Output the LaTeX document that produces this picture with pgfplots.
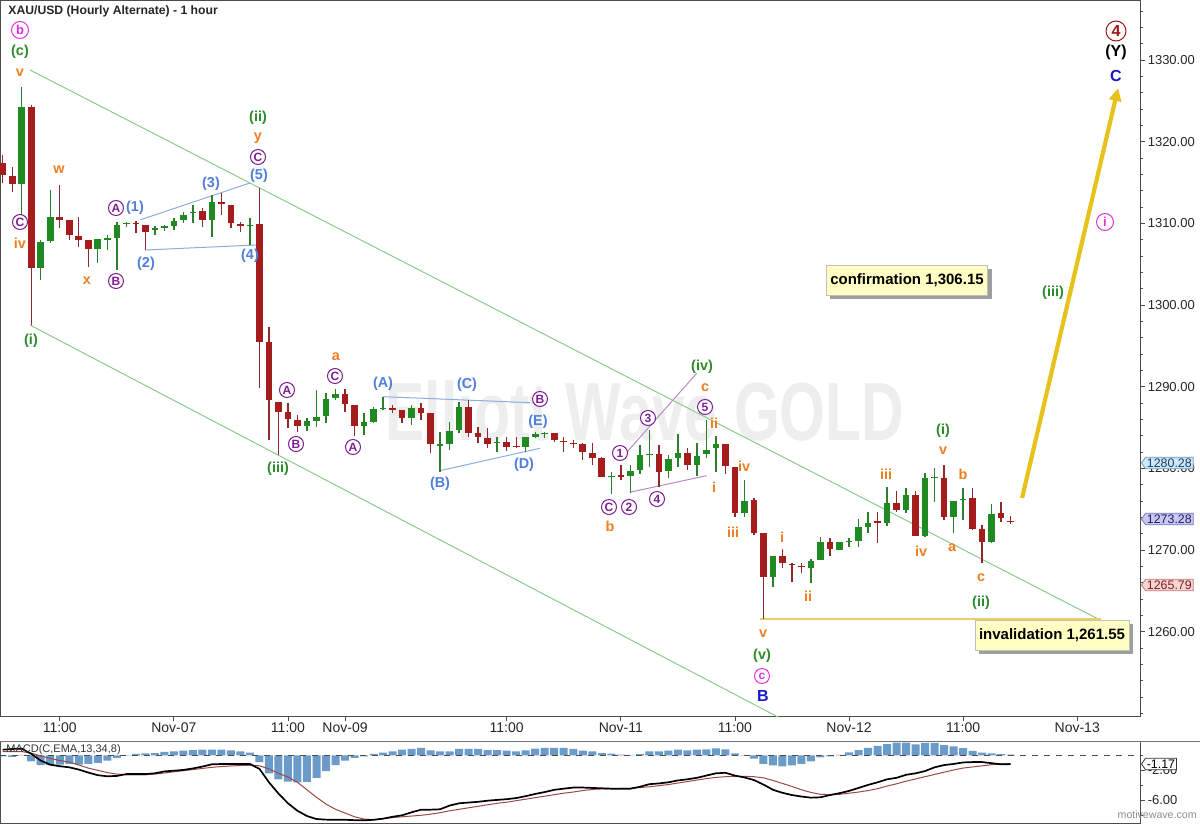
\documentclass[border=0pt]{standalone}
\usepackage{fontspec}
\setmainfont{Liberation Sans}
\usepackage{graphicx}
\usepackage{pgfplots}
\pgfplotsset{compat=1.18}
\usepackage{pgfplotstable}
\usetikzlibrary{arrows.meta,shapes.symbols}

\definecolor{cgreen}{HTML}{1F8A22}
\definecolor{cgreenw}{HTML}{2E7D2E}
\definecolor{cred}{HTML}{A51C1C}
\definecolor{credw}{HTML}{8E2A2A}
\definecolor{wgreen}{HTML}{2A8C2A}
\definecolor{worange}{HTML}{F07D1E}
\definecolor{wblue}{HTML}{4F7FDA}
\definecolor{wpurple}{HTML}{7D1E91}
\definecolor{wmag}{HTML}{E030E0}
\definecolor{wdblue}{HTML}{1818C8}
\definecolor{wdred}{HTML}{A01414}
\definecolor{chan}{HTML}{8CCB8C}
\definecolor{tri}{HTML}{88AEE2}
\definecolor{trip}{HTML}{B58AC8}
\definecolor{gold}{HTML}{E8C21C}
\definecolor{invl}{HTML}{E8CF6A}
\definecolor{histc}{HTML}{6A9BC9}
\definecolor{sigc}{HTML}{9A4A46}
\definecolor{boxy}{HTML}{FFFFC4}
\definecolor{wm}{HTML}{EEEEEE}
\definecolor{m1f}{HTML}{CDE8F5}\definecolor{m1d}{HTML}{6E96BE}\definecolor{m1t}{HTML}{1E3C6E}
\definecolor{m2f}{HTML}{C8C8F2}\definecolor{m2d}{HTML}{7878BE}\definecolor{m2t}{HTML}{1E1E64}
\definecolor{m3f}{HTML}{F8D4D4}\definecolor{m3d}{HTML}{BE7878}\definecolor{m3t}{HTML}{781E1E}

% green (up) candles: index, open, high, low, close
\pgfplotstableread{
i o h l c
3 1314.82 1326.69 1310.78 1324.25
5 1304.54 1307.97 1303.07 1307.72
6 1307.84 1314.09 1307.60 1310.78
11 1306.87 1308.09 1305.15 1308.09
12 1307.97 1308.58 1306.74 1308.21
13 1308.21 1310.17 1304.30 1309.80
14 1309.93 1310.17 1309.56 1310.10
17 1309.19 1309.68 1308.58 1309.44
18 1309.44 1309.80 1309.07 1309.68
19 1309.68 1310.66 1309.19 1310.29
20 1310.42 1311.40 1310.05 1311.03
21 1311.22 1312.25 1310.05 1311.40
23 1310.42 1313.48 1308.34 1312.62
27 1309.62 1310.66 1307.36 1309.80
33 1285.20 1286.18 1284.59 1285.81
34 1285.81 1289.61 1285.08 1286.30
35 1286.43 1289.24 1285.57 1288.51
36 1288.63 1289.73 1288.38 1289.12
39 1285.20 1286.79 1284.10 1285.69
40 1285.69 1287.53 1285.57 1287.28
41 1287.22 1288.75 1287.16 1287.40
44 1286.18 1287.77 1285.32 1287.40
47 1282.80 1284.47 1279.57 1282.99
48 1282.99 1285.69 1282.26 1284.59
49 1284.71 1288.14 1284.34 1287.53
53 1283.06 1283.85 1282.02 1283.24
56 1282.63 1283.85 1282.02 1283.85
57 1283.85 1284.47 1283.73 1284.22
58 1284.16 1284.47 1283.73 1284.34
65 1278.90 1279.57 1276.88 1279.08
67 1279.08 1280.43 1277.00 1279.69
68 1279.81 1282.87 1279.33 1281.65
69 1281.59 1284.71 1280.18 1281.77
71 1279.69 1281.65 1278.84 1281.16
72 1281.28 1284.22 1280.18 1281.90
74 1280.43 1283.12 1279.08 1281.53
75 1281.77 1285.93 1281.28 1282.26
76 1282.51 1283.98 1279.57 1282.99
79 1274.55 1278.59 1274.06 1276.02
82 1266.72 1269.29 1265.49 1269.29
86 1267.82 1268.92 1265.98 1268.67
87 1268.80 1271.61 1268.80 1271.00
89 1270.02 1271.00 1270.02 1271.00
90 1270.94 1271.49 1270.39 1271.12
91 1271.12 1273.81 1270.39 1272.84
92 1272.84 1274.67 1272.10 1273.33
94 1273.33 1277.73 1272.96 1275.78
96 1274.92 1277.61 1274.55 1276.75
98 1271.73 1279.45 1271.61 1278.84
99 1278.80 1280.06 1275.90 1278.96
101 1274.06 1276.02 1272.10 1276.02
102 1276.08 1277.61 1273.69 1276.26
105 1271.00 1275.65 1270.88 1274.43
}\greentab

% red (down) candles: index, open, high, low, close
\pgfplotstableread{
i o h l c
1 1317.39 1318.37 1314.94 1315.92
2 1315.80 1316.90 1313.84 1314.82
4 1324.25 1324.49 1297.56 1304.54
7 1310.78 1314.70 1309.44 1310.42
8 1310.42 1310.42 1307.97 1308.58
9 1308.46 1310.78 1307.11 1307.97
10 1307.97 1307.97 1304.66 1306.87
15 1310.05 1310.29 1308.83 1309.88
16 1309.80 1309.80 1306.74 1308.95
22 1311.52 1311.89 1309.56 1310.42
24 1312.62 1313.72 1311.03 1312.38
25 1312.25 1312.25 1309.44 1310.05
26 1309.93 1310.17 1308.95 1309.68
28 1309.93 1314.33 1289.85 1295.48
29 1295.48 1297.32 1283.49 1288.38
30 1288.14 1288.14 1281.65 1286.92
31 1286.92 1288.02 1284.96 1286.06
32 1285.93 1286.55 1284.47 1285.20
37 1289.12 1289.73 1286.92 1287.89
38 1287.77 1287.77 1283.98 1285.20
42 1287.40 1287.77 1286.79 1287.16
43 1287.16 1287.16 1285.57 1286.18
45 1287.40 1288.02 1285.93 1286.79
46 1286.79 1286.79 1281.90 1282.99
50 1287.53 1288.38 1283.85 1284.34
51 1284.34 1285.08 1283.12 1283.85
52 1283.73 1284.96 1282.51 1282.99
54 1283.24 1283.85 1282.14 1282.63
55 1282.80 1283.85 1282.51 1282.63
59 1284.34 1284.34 1283.24 1283.49
60 1283.42 1283.85 1282.02 1283.24
61 1283.17 1283.49 1282.51 1282.99
62 1282.99 1283.12 1281.04 1282.02
63 1281.90 1283.12 1280.43 1281.28
64 1281.28 1281.40 1278.96 1278.96
66 1279.14 1280.43 1278.59 1278.96
70 1281.77 1282.87 1277.73 1279.57
73 1281.90 1282.51 1279.81 1280.43
77 1282.99 1282.99 1279.33 1280.30
78 1280.18 1280.18 1274.06 1274.55
80 1276.14 1276.38 1271.86 1272.10
81 1272.10 1272.10 1261.55 1266.72
83 1269.29 1270.14 1267.82 1268.43
84 1268.36 1268.43 1266.10 1268.18
85 1268.12 1268.43 1267.20 1267.94
88 1271.00 1271.49 1269.29 1270.14
93 1273.51 1274.67 1270.88 1273.33
95 1275.78 1277.24 1274.67 1274.92
97 1276.75 1277.24 1271.73 1271.73
100 1278.84 1280.43 1273.69 1274.06
103 1276.38 1277.61 1272.47 1272.59
104 1272.59 1273.08 1268.43 1271.00
106 1274.55 1275.90 1273.45 1273.94
107 1273.58 1274.18 1273.20 1273.40
}\redtab

% MACD(13,34,8): histogram, MACD line, signal line
\pgfplotstableread{
i hist macd sig
1 -0.15 0.75 0.5
2 -0.2 0.85 0.5
3 0.05 0.9 0.5
4 -0.8 0.2 0.3
5 -1.3 -0.7 -0.1
6 -1.3 -1.25 -0.4
7 -1.25 -1.45 -0.7
8 -1.15 -1.6 -0.9
9 -1.25 -1.9 -1.3
10 -1.15 -2.3 -1.7
11 -1.0 -2.65 -2.0
12 -0.7 -2.8 -2.3
13 -0.35 -2.75 -2.5
14 -0.05 -2.5 -2.6
15 0.18 -2.5 -2.6
16 0.25 -2.5 -2.6
17 0.3 -2.4 -2.5
18 0.45 -2.15 -2.35
19 0.53 -2.05 -2.2
20 0.62 -1.95 -2.05
21 0.7 -1.75 -1.9
22 0.75 -1.5 -1.75
23 0.75 -1.2 -1.6
24 0.75 -1.16 -1.5
25 0.67 -1.16 -1.42
26 0.53 -1.16 -1.36
27 0.35 -1.16 -1.32
28 -0.9 -1.8 -1.4
29 -2.4 -3.6 -1.8
30 -3.2 -5.1 -2.4
31 -3.5 -6.4 -2.9
32 -3.6 -7.4 -3.6
33 -3.55 -8.1 -4.6
34 -3.0 -8.5 -5.6
35 -2.1 -8.58 -6.5
36 -1.3 -8.6 -7.2
37 -0.7 -8.6 -7.7
38 -0.35 -8.65 -8.2
39 -0.13 -8.67 -8.5
40 0.18 -8.6 -8.6
41 0.35 -8.45 -8.45
42 0.53 -8.2 -8.3
43 0.75 -8.0 -8.2
44 0.85 -7.6 -8.1
45 0.98 -7.25 -8.0
46 0.67 -7.25 -7.85
47 0.53 -7.2 -7.65
48 0.53 -6.7 -7.4
49 0.85 -6.4 -7.2
50 0.85 -6.3 -7.0
51 0.85 -6.2 -6.8
52 0.7 -6.05 -6.6
53 0.7 -5.95 -6.4
54 0.62 -5.85 -6.25
55 0.53 -5.7 -6.05
56 0.65 -5.45 -5.85
57 0.89 -5.15 -5.65
58 0.98 -4.9 -5.45
59 0.98 -4.6 -5.25
60 0.98 -4.45 -5.05
61 0.85 -4.3 -4.9
62 0.62 -4.3 -4.7
63 0.53 -4.35 -4.55
64 0.3 -4.4 -4.48
65 0.22 -4.45 -4.45
66 0.1 -4.45 -4.42
67 0.05 -4.45 -4.4
68 0.15 -4.2 -4.3
69 0.53 -3.85 -4.2
70 0.53 -3.75 -4.05
71 0.62 -3.6 -3.9
72 0.75 -3.35 -3.7
73 0.67 -3.2 -3.5
74 0.75 -3.0 -3.3
75 0.8 -2.7 -3.1
76 0.93 -2.4 -2.95
77 0.8 -2.33 -2.85
78 0.27 -2.7 -2.8
79 0.02 -2.95 -2.8
80 -0.45 -3.3 -2.85
81 -1.15 -3.9 -3.0
82 -1.33 -4.6 -3.35
83 -1.47 -5.0 -3.75
84 -1.33 -5.3 -4.15
85 -1.15 -5.5 -4.6
86 -0.8 -5.65 -4.95
87 -0.27 -5.6 -5.2
88 -0.13 -5.3 -5.25
89 0.05 -5.05 -5.2
90 0.4 -4.75 -5.05
91 0.7 -4.35 -4.9
92 1.0 -3.95 -4.7
93 1.25 -3.6 -4.45
94 1.5 -3.2 -4.1
95 1.7 -3.0 -3.8
96 1.7 -2.6 -3.45
97 1.45 -2.4 -3.15
98 1.65 -2.1 -2.85
99 1.65 -1.6 -2.55
100 1.35 -1.3 -2.25
101 1.2 -1.15 -1.95
102 0.95 -0.95 -1.7
103 0.6 -0.9 -1.55
104 0.35 -0.9 -1.4
105 0.25 -1.05 -1.25
106 0.15 -1.2 -1.15
107 0.1 -1.17 -1.1
}\macdtab

\pgfplotsset{candle/.style={draw=none, mark=none, forget plot}}

\tikzset{
  lab/.style={inner sep=0pt, font=\fontsize{7.2}{8}\selectfont\bfseries},
  gr/.style={lab, text=wgreen},
  or/.style={lab, text=worange},
  bl/.style={lab, text=wblue},
  blB/.style={lab, text=wdblue, font=\fontsize{8}{9}\selectfont\bfseries},
  blk/.style={lab, text=black, font=\fontsize{8}{9}\selectfont\bfseries},
  circ/.style={circle, draw=#1, text=#1, fill=white, line width=0.5pt, inner sep=0pt,
    minimum size=7.5pt, font=\fontsize{6}{6}\selectfont\bfseries},
  pmark/.style={signal, signal to=west, signal pointer angle=110, inner sep=0.7pt,
    anchor=west, font=\fontsize{6.2}{7}\selectfont, line width=0.4pt},
  ibox/.style={draw=black!25, fill=boxy, inner xsep=2pt, minimum height=15pt,
    font=\fontsize{7.5}{8}\selectfont\bfseries},
  sbox/.style={fill=black!38, draw=none, text=black!38, inner xsep=2pt, minimum height=15pt,
    font=\fontsize{7.5}{8}\selectfont\bfseries}
}

\begin{document}
\begin{tikzpicture}
\useasboundingbox (0,0) rectangle (600pt,-412.5pt);

% watermark
\begin{scope}[x=0.5pt,y=-0.5pt]
\node[text=wm, font=\fontsize{29.5}{30}\selectfont\bfseries] at (645,411) {\scalebox{1}[1.4]{Elliott Wave GOLD}};
\end{scope}

\begin{axis}[
  at={(0pt,0pt)}, anchor=north west, scale only axis,
  width=570pt, height=358pt,
  xmin=0.716, xmax=120.6, ymin=1249.70, ymax=1337.34,
  axis line style={black!70, line width=0.5pt},
  xtick={7,19,31,37,54,66,78,90,102,114},
  xticklabels={11:00,Nov-07,11:00,Nov-09,11:00,Nov-11,11:00,Nov-12,11:00,Nov-13},
  x tick label style={font=\fontsize{7}{8}\selectfont, text=black!85, inner sep=0.6pt},
  ytick={1260,1270,1280,1290,1300,1310,1320,1330},
  yticklabels={1260.00,1270.00,1280.00,1290.00,1300.00,1310.00,1320.00,1330.00},
  minor ytick={1250,1252,...,1336},
  yticklabel pos=right, ytick pos=right, xtick pos=bottom,
  y tick label style={font=\fontsize{6.5}{7}\selectfont, text=black!85, inner sep=1.2pt},
  tick align=outside, major tick length=2.5pt, minor tick length=1.5pt,
  tick style={black!70, line width=0.4pt},
]
% channel lines
\addplot[chan, line width=0.5pt] coordinates {(3.87,1328.78) (118.28,1260.33)};
\addplot[chan, line width=0.5pt] coordinates {(3.87,1297.56) (84.84,1248.17)};
% triangle / wedge lines
\addplot[tri, line width=0.5pt] coordinates {(15.44,1310.42) (27.0,1314.94)};
\addplot[tri, line width=0.5pt] coordinates {(15.97,1306.74) (27.8,1307.36)};
\addplot[tri, line width=0.5pt] coordinates {(41.02,1288.79) (56.45,1288.05)};
\addplot[tri, line width=0.5pt] coordinates {(46.98,1279.73) (57.50,1282.47)};
\addplot[trip, line width=0.5pt] coordinates {(65.98,1281.13) (73.98,1291.65)};
\addplot[trip, line width=0.5pt] coordinates {(66.96,1277.09) (75.03,1279.12)};
% invalidation line
\addplot[invl, line width=0.8pt] coordinates {(80.63,1261.55) (116.5,1261.55)};

% wicks
\addplot[candle, error bars/.cd, y dir=plus, y explicit, error mark=none,
  error bar style={draw=cgreenw, line width=0.7pt}]
  table[x=i, y=l, y error plus expr=\thisrow{h}-\thisrow{l}] {\greentab};
\addplot[candle, error bars/.cd, y dir=plus, y explicit, error mark=none,
  error bar style={draw=credw, line width=0.7pt}]
  table[x=i, y=l, y error plus expr=\thisrow{h}-\thisrow{l}] {\redtab};
% bodies
\addplot[candle, error bars/.cd, y dir=plus, y explicit, error mark=none,
  error bar style={draw=cgreen, line width=3.3pt}]
  table[x=i, y=o, y error plus expr=\thisrow{c}-\thisrow{o}] {\greentab};
\addplot[candle, error bars/.cd, y dir=plus, y explicit, error mark=none,
  error bar style={draw=cred, line width=3.3pt}]
  table[x=i, y=c, y error plus expr=\thisrow{o}-\thisrow{c}] {\redtab};

% projected path arrow
\addplot[gold, line width=2.1pt, -{Triangle[length=6.5pt,width=6pt]}] coordinates {(108.2,1276.39) (118.3,1326.57)};
\end{axis}

\begin{axis}[
  at={(0pt,-370.5pt)}, anchor=north west, scale only axis,
  width=570pt, height=41pt,
  xmin=0.716, xmax=120.6, ymin=-9.03, ymax=1.91,
  axis line style={black!70, line width=0.5pt},
  xtick=\empty,
  ytick={-6,-2}, yticklabels={-6.00,-2.00},
  minor ytick={-8,-4,0},
  yticklabel pos=right, ytick pos=right,
  y tick label style={font=\fontsize{6.5}{7}\selectfont, text=black!85, inner sep=1.2pt},
  tick align=outside, major tick length=2.5pt, minor tick length=1.5pt,
  tick style={black!70, line width=0.4pt},
]
\addplot[ybar, bar width=4pt, fill=histc, draw=none] table[x=i, y=hist] {\macdtab};
\addplot[black!70, dashed, line width=0.5pt] coordinates {(0.716,0) (120.6,0)};
\addplot[sigc, line width=0.5pt] table[x=i, y=sig] {\macdtab};
\addplot[black, line width=0.85pt] table[x=i, y=macd] {\macdtab};
\end{axis}

% separators
\draw[black!55, line width=0.5pt] (0,-370.5pt) -- (600pt,-370.5pt);

\begin{scope}[x=0.5pt,y=-0.5pt]
% title and captions
\node[anchor=west, inner sep=0pt, text=black!85, font=\fontsize{6.1}{7}\selectfont\bfseries] at (8,11) {XAU/USD (Hourly Alternate) - 1 hour};
\node[anchor=west, inner sep=0pt, text=black!80, font=\fontsize{5.5}{6}\selectfont] at (6,750) {MACD(C,EMA,13,34,8)};
\node[anchor=east, inner sep=0pt, text=black!45, font=\fontsize{5.3}{6}\selectfont] at (1197,815) {motivewave.com};

% wave labels
\node[circ=wmag, minimum size=8.5pt, font=\fontsize{6.5}{7}\selectfont\bfseries] at (20,30) {b};
\node[gr] at (20,52) {(c)};
\node[or] at (20,73) {v};
\node[or] at (59,170) {w};
\node[circ=wpurple] at (20,222) {C};
\node[or] at (20,243) {iv};
\node[or] at (87,281) {x};
\node[circ=wpurple] at (116,208) {A};
\node[bl] at (135,208) {(1)};
\node[circ=wpurple] at (116,281) {B};
\node[bl] at (146,264) {(2)};
\node[bl] at (211,184) {(3)};
\node[gr] at (258,118) {(ii)};
\node[or] at (258,138) {y};
\node[circ=wpurple] at (258,157) {C};
\node[bl] at (259,176) {(5)};
\node[bl] at (250,256) {(4)};
\node[gr] at (31,341) {(i)};
\node[or] at (336,357) {a};
\node[circ=wpurple] at (335,376) {C};
\node[circ=wpurple] at (287,390) {A};
\node[circ=wpurple] at (296,444) {B};
\node[circ=wpurple] at (353,447) {A};
\node[gr] at (278,469) {(iii)};
\node[bl] at (383,384) {(A)};
\node[bl] at (467,385) {(C)};
\node[circ=wpurple] at (540,399) {B};
\node[bl] at (538,422) {(E)};
\node[bl] at (440,484) {(B)};
\node[bl] at (524,465) {(D)};
\node[gr] at (702,367) {(iv)};
\node[or] at (705,388) {c};
\node[circ=wpurple] at (705,407) {5};
\node[or] at (714,423) {ii};
\node[circ=wpurple] at (648,418) {3};
\node[circ=wpurple] at (620,453) {1};
\node[or] at (744,466) {iv};
\node[or] at (714,487) {i};
\node[circ=wpurple] at (609,507) {C};
\node[circ=wpurple] at (629,507) {2};
\node[circ=wpurple] at (657,499) {4};
\node[or] at (610,526) {b};
\node[or] at (733,532) {iii};
\node[or] at (782,537) {i};
\node[or] at (808,596) {ii};
\node[or] at (763,634) {v};
\node[gr] at (762,656) {(v)};
\node[circ=wmag] at (762,676) {c};
\node[blB] at (763,696) {B};
\node[or] at (886,474) {iii};
\node[gr] at (943,431) {(i)};
\node[or] at (943,451) {v};
\node[or] at (963,474) {b};
\node[or] at (921,551) {iv};
\node[or] at (952,548) {a};
\node[or] at (981,578) {c};
\node[gr] at (981,603) {(ii)};
\node[circ=wdred, minimum size=10pt, font=\fontsize{8}{9}\selectfont\bfseries] at (1116,31) {4};
\node[blk] at (1116,52) {(Y)};
\node[blB] at (1116,76) {C};
\node[circ=wmag, minimum size=8.5pt, font=\fontsize{6.5}{7}\selectfont\bfseries] at (1105,222) {i};
\node[gr] at (1053,293) {(iii)};

% boxes
\node[sbox] at (911,284) {confirmation 1,306.15};
\node[ibox] at (907,280) {confirmation 1,306.15};
\node[sbox] at (1056,639) {invalidation 1,261.55};
\node[ibox] at (1052,635) {invalidation 1,261.55};

% price markers
\node[pmark, fill=m1f, draw=m1d, text=m1t] at (1141,463) {1280.28};
\node[pmark, fill=m2f, draw=m2d, text=m2t] at (1141,519) {1273.28};
\node[pmark, fill=m3f, draw=m3d, text=m3t] at (1141,585) {1265.79};
\node[pmark, fill=white, draw=black!80, text=black] at (1141,764) {-1.17};
\end{scope}
\end{tikzpicture}
\end{document}
